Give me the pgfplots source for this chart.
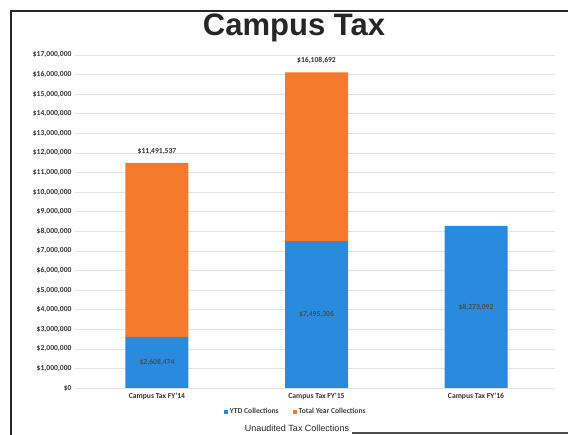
\documentclass[border=0pt]{standalone}
\usepackage{pgfplots}
\pgfplotsset{compat=1.18}
\usepackage{fontspec}
\setmainfont{Carlito}
\newfontfamily\arialfont{Liberation Sans}

\definecolor{ytdblue}{RGB}{42,138,222}
\definecolor{totorange}{RGB}{246,121,44}

% YTD collections and remaining part of the total year collections
\pgfplotstableread{
x ytd rest
0 2608474 8883063
1 7495306 8613386
2 8273092 0
}\taxdata

\begin{document}
\begin{tikzpicture}
  \useasboundingbox (0pt,0pt) rectangle (568pt,435pt);
  % scanned page frame
  \draw[line width=2pt,black!85] (11pt,0pt) -- (11pt,424pt) -- (568pt,424pt);
  \draw[line width=2pt,black!70] (352pt,2pt) -- (568pt,2pt);
  \node[font={\arialfont\bfseries\fontsize{31}{34}\selectfont},text=black!85] at (294pt,407pt) {Campus Tax};

  \begin{axis}[
      at={(75pt,47pt)}, anchor=south west,
      scale only axis,
      width=480pt, height=333pt,
      ybar stacked,
      bar width=63pt,
      xmin=-0.514, xmax=2.495,
      ymin=0, ymax=17000000,
      ytick={0,1000000,...,17000000},
      scaled y ticks=false,
      xtick={0,1,2},
      xticklabels={Campus Tax FY'14,Campus Tax FY'15,Campus Tax FY'16},
      ymajorgrids,
      grid style={gray!22, line width=0.6pt},
      axis line style={draw=none},
      major tick length=0pt,
      tick label style={font=\bfseries\fontsize{7.6}{9}\selectfont, text=black!80},
      xticklabel style={yshift=-1pt},
      /pgf/number format/.cd, fixed, precision=0, 1000 sep={,}, assume math mode=true,
      /pgfplots/.cd,
      yticklabel={\$\pgfmathprintnumber{\tick}},
      legend style={at={(0.46,-0.072)}, anchor=center, draw=none, fill=none,
        font=\bfseries\fontsize{7.6}{9}\selectfont, text=black!75,
        legend columns=-1,
        /tikz/every even column/.append style={column sep=12pt}},
      legend image code/.code={\fill[#1] (0pt,-2pt) rectangle (4pt,2pt);},
    ]
    \addplot[fill=ytdblue, draw=none] table[x=x, y=ytd] {\taxdata};
    \addplot[fill=totorange, draw=none] table[x=x, y=rest] {\taxdata};
    \legend{YTD Collections, Total Year Collections}
  \end{axis}

  % value labels
  \begin{axis}[
      at={(75pt,47pt)}, anchor=south west,
      scale only axis,
      width=480pt, height=333pt,
      xmin=-0.514, xmax=2.495,
      ymin=0, ymax=17000000,
      hide axis,
      nodes near coords,
      point meta=explicit symbolic,
      every node near coord/.append style={font=\bfseries\fontsize{7.6}{9}\selectfont, text=black!80},
    ]
    \addplot[draw=none, mark=none, every node near coord/.append style={anchor=south, yshift=5pt}]
      coordinates {(0,11491537) [\$11,491,537] (1,16108692) [\$16,108,692]};
    \addplot[draw=none, mark=none, every node near coord/.append style={anchor=center, text=black!70}]
      coordinates {(0,1304237) [\$2,608,474] (1,3747653) [\$7,495,306] (2,4136546) [\$8,273,092]};
  \end{axis}

  \node[font={\arialfont\fontsize{9}{10}\selectfont},text=black!85,anchor=base] at (297pt,3pt) {Unaudited Tax Collections};
\end{tikzpicture}
\end{document}
